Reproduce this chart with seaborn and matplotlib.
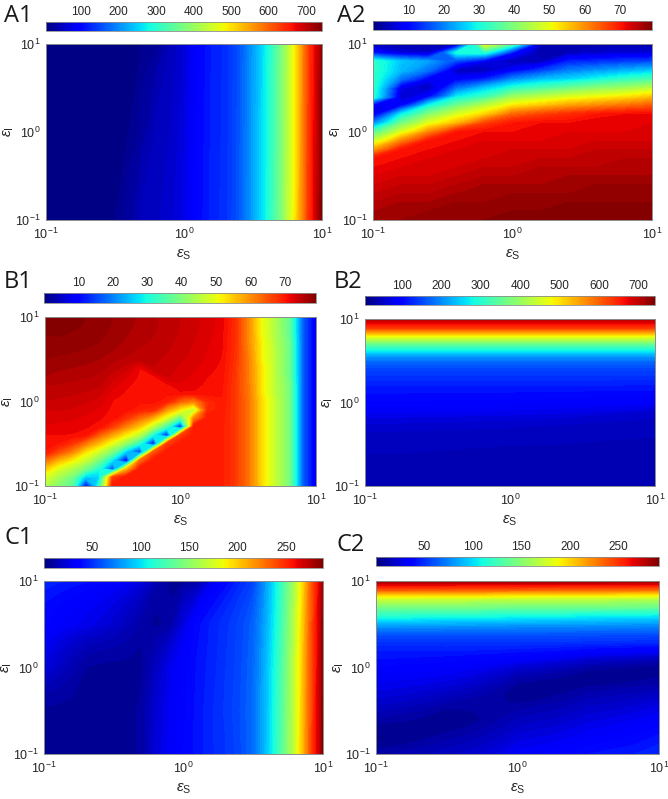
import numpy as np
import matplotlib
matplotlib.use("Agg")
import matplotlib.pyplot as plt
import seaborn as sns
from matplotlib.colors import Normalize
from matplotlib.ticker import LogLocator, NullFormatter, LogFormatterSciNotation

# ---------------- data (log10 grids of eps_S / eps_I and read-off values) -------------
G21_UP = [-1.0, -0.9, -0.8, -0.7, -0.6, -0.5, -0.4, -0.3, -0.2, -0.1, 0.0,
          0.1, 0.2, 0.3, 0.4, 0.5, 0.6, 0.7, 0.8, 0.9, 1.0]
G21_DOWN = G21_UP[::-1]
G11 = [-1.0, -0.8, -0.6, -0.4, -0.2, 0.0, 0.2, 0.4, 0.6, 0.8, 1.0]
G5 = [-1.0, -0.5, 0.0, 0.5, 1.0]
G3 = [-1.0, 0.0, 1.0]

# A1: rows along eps_S (G21_UP) at eps_I = 10^-1, 10^0, 10^1
A1_row_ei_m1 = [15, 15, 15, 15, 15, 15, 28, 44, 50, 58, 72, 100, 120, 130, 160, 215, 280, 368, 485, 625, 740]
A1_row_ei_0 = [15, 15, 15, 15, 15, 15, 15, 28, 44, 52, 68, 98, 118, 129, 158, 213, 278, 366, 482, 622, 735]
A1_row_ei_p1 = [15, 15, 15, 15, 15, 15, 15, 15, 20, 42, 62, 95, 116, 128, 156, 211, 276, 364, 480, 620, 725]
A1_range = (6, 742)
A1_ticks = [100, 200, 300, 400, 500, 600, 700]

# A2: columns along eps_I (G21_DOWN, top to bottom) at eps_S = 10^G11
A2_col_m10 = [3, 10, 32, 32, 32, 32, 31, 7, 7, 20, 35, 46, 58, 70, 71, 72, 73, 74, 75, 76, 77]
A2_col_m08 = [3, 6, 25, 24, 18, 7, 5, 9, 28, 38, 48, 60, 70, 71, 72, 73, 74, 75, 76, 77, 77]
A2_col_m06 = [3, 5, 22, 18, 8, 4, 10, 29, 40, 49, 60, 70, 71, 72, 73, 73, 74, 75, 76, 77, 78]
A2_col_m04 = [3, 30, 14, 4, 9, 18, 28, 38, 48, 56, 70, 71, 72, 73, 73, 74, 75, 76, 77, 78, 78]
A2_col_m02 = [50, 30, 7, 4, 12, 25, 33, 45, 54, 66, 71, 72, 73, 73, 74, 75, 76, 77, 77, 78, 78]
A2_col_0 = [35, 10, 4, 9, 20, 31, 42, 52, 63, 70, 71, 72, 73, 74, 74, 75, 76, 77, 78, 78, 79]
A2_col_p02 = [3, 3, 4, 14, 24, 34, 45, 55, 66, 71, 72, 72, 73, 74, 75, 76, 76, 77, 78, 78, 79]
A2_col_p04 = [3, 4, 12, 19, 26, 37, 48, 58, 68, 71, 72, 73, 73, 74, 75, 76, 77, 77, 78, 79, 79]
A2_col_p06 = [3, 5, 13, 21, 29, 40, 50, 60, 70, 72, 72, 73, 74, 75, 75, 76, 77, 78, 78, 79, 79]
A2_col_p08 = [3, 6, 14, 23, 32, 42, 52, 62, 71, 72, 72, 73, 74, 75, 76, 76, 77, 78, 78, 79, 79]
A2_col_p10 = [3, 6, 15, 25, 34, 45, 55, 64, 71, 72, 73, 73, 74, 75, 76, 76, 77, 78, 78, 79, 79]
A2_range = (0, 79)
A2_ticks = [10, 20, 30, 40, 50, 60, 70]

# B1: columns along eps_I (G21_DOWN) at eps_S = 10^G21_UP
B1_col_m10 = [79, 79, 78, 78, 77.5, 77, 76.5, 76, 75, 74.5, 74, 73, 72.5, 72, 71, 70.5, 70, 62, 54, 48, 44]
B1_col_m09 = [78.7, 78.5, 78.1, 77.8, 77.3, 76.8, 76.2, 75.6, 75, 74.4, 73.8, 73.1, 72.4, 71.7, 71, 70, 65, 56, 48, 43, 40]
B1_col_m08 = [78.3, 78.2, 77.9, 77.6, 77.1, 76.6, 76, 75.4, 74.8, 74.2, 73.6, 72.9, 72.2, 71.5, 71, 67, 60, 51, 44, 38, 36]
B1_col_m07 = [78, 77.9, 77.6, 77.3, 76.9, 76.4, 75.8, 75.2, 74.6, 73.9, 73.2, 72.5, 71.8, 71.2, 70, 61, 52, 46, 38, 24, 8]
B1_col_m06 = [77.6, 77.5, 77.3, 77, 76.6, 76, 75.4, 74.8, 74.2, 73.4, 72.6, 71.8, 71.2, 70.5, 63, 55, 46, 38, 30, 26, 32]
B1_col_m05 = [77, 76.9, 76.7, 76.4, 76, 75.3, 74.6, 73.5, 72.5, 71.6, 71, 70.7, 70.5, 66, 57, 48, 38, 26, 14, 66, 70]
B1_col_m04 = [76.4, 76.3, 76.1, 75.8, 75.4, 74.8, 73.5, 72.2, 71.3, 70.9, 70.7, 70.6, 67, 60, 51, 40, 24, 6, 55, 70, 70]
B1_col_m03 = [75.8, 75.7, 75.5, 75.2, 74.8, 74.3, 71, 70.8, 70.6, 70.5, 70.5, 69, 62, 54, 44, 30, 12, 62, 70, 70, 70]
B1_col_m02 = [75.2, 75.2, 75.1, 74.9, 74.6, 74.3, 74, 70.8, 70.6, 70.5, 70.5, 68, 56, 44, 28, 8, 64, 70, 70, 70, 70]
B1_col_m01 = [74.6, 74.6, 74.5, 74.3, 74.1, 73.8, 73.5, 73.2, 70.8, 70.6, 69, 58, 47, 32, 10, 66, 70, 70, 70, 70, 70]
B1_col_0 = [74, 74, 73.9, 73.7, 73.5, 73.2, 72.8, 72.4, 72, 70.8, 63, 51, 34, 10, 66, 70, 70, 70, 70, 70, 70]
B1_col_p01 = [73.3, 73.3, 73.2, 73, 72.8, 72.6, 72.2, 71.8, 71.3, 71, 60, 44, 60, 70, 70, 70, 70, 70, 70, 70, 70]
B1_col_p02 = [72.6, 72.6, 72.4, 72.2, 72, 71.8, 71.5, 71.1, 70.9, 70.7, 68, 68, 70, 70, 70, 70, 70, 70, 70, 70, 70]
B1_col_p03 = [71.5, 71.5, 71.4, 71.3, 71.2, 71, 70.8, 70.6, 70.4, 70.2, 70, 69.8, 69.6, 69.5, 69.5, 69.5, 69.5, 69.5, 69.5, 69.5, 69.5]
B1_col_p04 = [68, 68, 68, 68, 67.8, 67.6, 67.4, 67.2, 67, 67, 67, 67, 67, 67, 67, 67, 67, 67, 67, 67, 67]
B1_col_p05 = [60, 60, 60, 60, 60.5, 61, 61, 61, 61.5, 61.5, 62, 62, 62, 62, 62, 62, 62, 62, 62, 62, 62]
B1_col_p06 = [50, 50, 50, 51, 51, 51, 52, 52, 52, 52, 53, 53, 53, 53, 53, 53, 53, 53, 53, 53, 53]
B1_col_p07 = [44, 44, 44, 44, 45, 45, 45, 45, 45, 45, 46, 46, 46, 46, 46, 46, 46, 46, 46, 46, 46]
B1_col_p08 = [37, 37, 37, 38, 38, 38, 38, 38, 39, 39, 39, 39, 39, 39, 39, 39, 39, 39, 39, 39, 39]
B1_col_p09 = [17, 17, 17, 17, 17, 17, 17, 17, 17, 17, 17, 17, 17, 17, 17, 17, 17, 17, 17, 17, 17]
B1_col_p10 = [7, 7, 7, 7, 7, 7, 7, 7, 7, 7, 7, 7, 7, 7, 7, 7, 7, 7, 7, 7, 7]
B1_range = (0, 79)
B1_ticks = [10, 20, 30, 40, 50, 60, 70]

# B2: columns along eps_I (G21_DOWN) at eps_S = 10^G3
B2_col_m1 = [705, 630, 478, 345, 245, 172, 146, 130, 116, 106, 96, 82, 68, 56, 48, 45, 43, 41, 40, 39, 38]
B2_col_0 = [705, 630, 478, 345, 245, 172, 146, 130, 116, 104, 93, 78, 62, 52, 46, 43, 41, 40, 39, 38, 37]
B2_col_p1 = [705, 630, 478, 345, 245, 172, 146, 130, 114, 100, 86, 60, 49, 46, 43, 41, 40, 39, 38, 37, 36]
B2_range = (6, 742)
B2_ticks = [100, 200, 300, 400, 500, 600, 700]

# C1: rows along eps_S (G21_UP) at eps_I = 10^G5
C1_row_m10 = [6, 6, 6, 6, 6, 6, 6, 8, 22, 30, 36, 41, 46, 50, 56, 66, 92, 128, 171, 230, 285]
C1_row_m05 = [6, 6, 6, 6, 6, 6, 6, 8, 21, 29, 35, 41, 46, 51, 57, 66, 91, 127, 170, 229, 284]
C1_row_0 = [24, 18, 12, 7, 6, 6, 6, 6, 16, 27, 34, 40, 45, 50, 56, 65, 90, 125, 169, 228, 283]
C1_row_p05 = [36, 33, 30, 27, 24, 20, 15, 9, 6, 8, 24, 38, 44, 49, 55, 63, 86, 121, 166, 226, 281]
C1_row_p10 = [46, 44, 42, 40, 37, 34, 30, 24, 12, 6, 6, 8, 26, 36, 45, 54, 82, 118, 162, 222, 278]
C1_range = (0, 288)
C1_ticks = [50, 100, 150, 200, 250]

# C2: columns along eps_I (G21_DOWN) at eps_S = 10^G5
C2_col_m10 = [285, 238, 176, 145, 115, 85, 62, 50, 44, 40, 36, 32, 28, 24, 20, 15, 10, 5, 3, 5, 10]
C2_col_m05 = [285, 236, 174, 143, 112, 83, 62, 51, 44, 38, 33, 28, 23, 17, 11, 6, 3, 5, 9, 13, 17]
C2_col_0 = [285, 234, 172, 141, 109, 81, 62, 51, 42, 32, 21, 12, 6, 3, 6, 11, 15, 19, 23, 27, 31]
C2_col_p05 = [285, 232, 170, 140, 105, 80, 61, 50, 37, 21, 9, 3, 6, 11, 16, 20, 24, 28, 32, 36, 40]
C2_col_p10 = [285, 230, 168, 138, 102, 78, 60, 48, 33, 14, 4, 6, 11, 17, 23, 28, 33, 37, 41, 44, 47]
C2_range = (0, 292)
C2_ticks = [50, 100, 150, 200, 250]

# ---------------- style ----------------
W, H = 668, 799
sns.set_theme(style="white")
plt.rcParams["font.family"] = ["Liberation Sans", "DejaVu Sans"]
plt.rcParams["mathtext.fontset"] = "custom"
plt.rcParams["mathtext.rm"] = "Liberation Sans"
plt.rcParams["mathtext.it"] = "Liberation Sans:italic"
plt.rcParams["mathtext.bf"] = "Liberation Sans:bold"
cmap = matplotlib.colormaps["jet"]

fig = plt.figure(figsize=(W / 100, H / 100), dpi=100)


def rect(x0, y0, x1, y1):
    return [x0 / W, 1 - y1 / H, (x1 - x0) / W, (y1 - y0) / H]


def panel(ax_box, cb_box, xe, ye, Z, vrange, cticks, label, label_xy):
    vmin, vmax = vrange
    ax = fig.add_axes(rect(*ax_box))
    X, Y = np.meshgrid(10.0 ** np.asarray(xe), 10.0 ** np.asarray(ye))
    norm = Normalize(vmin, vmax)
    levels = np.linspace(vmin, vmax, 81)
    cs = ax.contourf(X, Y, np.asarray(Z, float), levels=levels, cmap=cmap,
                     norm=norm, extend="both")
    cs.set_edgecolor("face")
    cs.set_linewidth(0.5)
    ax.set_xscale("log")
    ax.set_yscale("log")
    ax.set_xlim(0.1, 10)
    ax.set_ylim(0.1, 10)
    for a in (ax.xaxis, ax.yaxis):
        a.set_major_locator(LogLocator(base=10, numticks=5))
        a.set_major_formatter(LogFormatterSciNotation())
        a.set_minor_locator(LogLocator(base=10, subs=np.arange(2, 10), numticks=12))
        a.set_minor_formatter(NullFormatter())
    ax.tick_params(which="both", direction="in", top=True, right=True,
                   color="#707070", labelcolor="#262626", labelsize=9)
    ax.tick_params(which="major", length=4, width=0.6)
    ax.tick_params(which="minor", length=2, width=0.5)
    ax.tick_params(axis="x", pad=5)
    ax.tick_params(axis="y", pad=4)
    for s in ax.spines.values():
        s.set_color("#8c8c8c")
        s.set_linewidth(0.7)
    wpx = ax_box[2] - ax_box[0]
    hpx = ax_box[3] - ax_box[1]
    ax.set_xlabel(r"$\epsilon_{\mathrm{S}}$", fontsize=11, color="#262626")
    ax.set_ylabel(r"$\epsilon_{\mathrm{I}}$", fontsize=11, color="#262626")
    ax.xaxis.set_label_coords(0.5, -28 / hpx)
    ax.yaxis.set_label_coords(-30 / wpx, 0.5)

    cax = fig.add_axes(rect(*cb_box))
    sm = matplotlib.cm.ScalarMappable(norm=norm, cmap=cmap)
    cb = fig.colorbar(sm, cax=cax, orientation="horizontal", ticks=cticks)
    cax.xaxis.tick_top()
    cax.tick_params(axis="x", which="both", direction="in", top=True, bottom=True,
                    labeltop=True, labelbottom=False, length=2.5, width=0.5,
                    color="#707070", labelcolor="#262626", labelsize=8.5, pad=3)
    cb.outline.set_edgecolor("#8c8c8c")
    cb.outline.set_linewidth(0.6)

    fig.text(label_xy[0] / W, 1 - label_xy[1] / H, label, fontsize=17,
             family=["Open Sans", "DejaVu Sans"], va="baseline", ha="left",
             color="#1a1a1a")
    return ax


A1_Z = [A1_row_ei_m1, A1_row_ei_0, A1_row_ei_p1]
A2_Z = np.array([A2_col_m10, A2_col_m08, A2_col_m06, A2_col_m04, A2_col_m02, A2_col_0,
                 A2_col_p02, A2_col_p04, A2_col_p06, A2_col_p08, A2_col_p10]).T
B1_Z = np.array([B1_col_m10, B1_col_m09, B1_col_m08, B1_col_m07, B1_col_m06, B1_col_m05,
                 B1_col_m04, B1_col_m03, B1_col_m02, B1_col_m01, B1_col_0, B1_col_p01,
                 B1_col_p02, B1_col_p03, B1_col_p04, B1_col_p05, B1_col_p06, B1_col_p07,
                 B1_col_p08, B1_col_p09, B1_col_p10]).T
B2_Z = np.array([B2_col_m1, B2_col_0, B2_col_p1]).T
C1_Z = [C1_row_m10, C1_row_m05, C1_row_0, C1_row_p05, C1_row_p10]
C2_Z = np.array([C2_col_m10, C2_col_m05, C2_col_0, C2_col_p05, C2_col_p10]).T

panel((46, 44, 322, 220), (46, 22, 322, 31), G21_UP, G3, A1_Z, A1_range, A1_ticks, "A1", (4, 22))
panel((373, 44, 652, 220), (373, 21, 652, 30), G11, G21_DOWN, A2_Z, A2_range, A2_ticks, "A2", (337, 22))
panel((45, 317, 316, 486), (44, 293, 316, 303), G21_UP, G21_DOWN, B1_Z, B1_range, B1_ticks, "B1", (4, 288))
panel((365, 319, 655, 486), (365, 296, 655, 305), G3, G21_DOWN, B2_Z, B2_range, B2_ticks, "B2", (334, 288))
panel((44, 581, 323, 754), (44, 558, 323, 568), G21_UP, G5, C1_Z, C1_range, C1_ticks, "C1", (4, 544))
panel((376, 581, 659, 754), (376, 557, 659, 566), G5, G21_DOWN, C2_Z, C2_range, C2_ticks, "C2", (336, 551))

fig.savefig("out.png", dpi=100)
